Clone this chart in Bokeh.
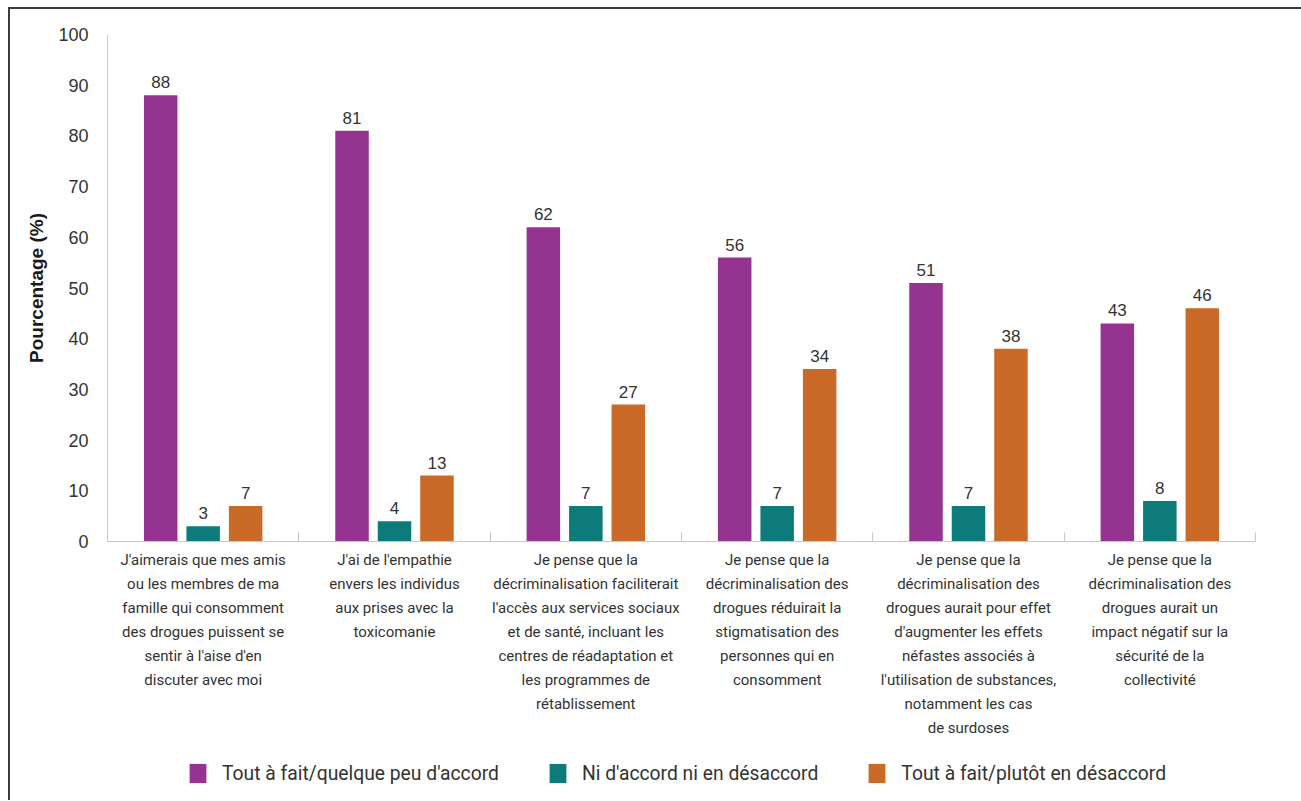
import numpy as np
from bokeh.plotting import figure
from bokeh.layouts import column
from bokeh.models import ColumnDataSource, FixedTicker, Legend, LegendItem, Range1d
from bokeh.core.properties import value
from bokeh.embed import file_html
from bokeh.resources import INLINE

categories = [
    "J'aimerais que mes amis\nou les membres de ma\nfamille qui consomment\ndes drogues puissent se\nsentir à l'aise d'en\ndiscuter avec moi",
    "J'ai de l'empathie\nenvers les individus\naux prises avec la\ntoxicomanie",
    "Je pense que la\ndécriminalisation faciliterait\nl'accès aux services sociaux\net de santé, incluant les\ncentres de réadaptation et\nles programmes de\nrétablissement",
    "Je pense que la\ndécriminalisation des\ndrogues réduirait la\nstigmatisation des\npersonnes qui en\nconsomment",
    "Je pense que la\ndécriminalisation des\ndrogues aurait pour effet\nd'augmenter les effets\nnéfastes associés à\nl'utilisation de substances,\nnotamment les cas\nde surdoses",
    "Je pense que la\ndécriminalisation des\ndrogues aurait un\nimpact négatif sur la\nsécurité de la\ncollectivité",
]
series_names = [
    "Tout à fait/quelque peu d'accord",
    "Ni d'accord ni en désaccord",
    "Tout à fait/plutôt en désaccord",
]
accord = [88, 81, 62, 56, 51, 43]
neutre = [3, 4, 7, 7, 7, 8]
desaccord = [7, 13, 27, 34, 38, 46]
y_ticks = [0, 10, 20, 30, 40, 50, 60, 70, 80, 90, 100]
y_title = "Pourcentage (%)"

colors = ["#943490", "#0e7b7b", "#c96a28"]
offsets = [-0.222, 0.0, 0.222]
bar_w = 0.175

n = len(categories)
centers = np.arange(n) + 0.5
bounds = list(np.arange(n + 1).astype(float))

NARROW = "Roboto"
SANS = "Liberation Sans"
W = 1291

p = figure(width=W, height=736, x_range=Range1d(0, n), y_range=Range1d(0, 100),
           output_backend="svg", toolbar_location=None, tools="",
           min_border_left=97, min_border_right=46, min_border_top=25, min_border_bottom=204)
p.outline_line_color = None
p.xgrid.grid_line_color = None
p.ygrid.grid_line_color = None
p.background_fill_color = "white"

sources = []
for vals, col, off in zip([accord, neutre, desaccord], colors, offsets):
    src = ColumnDataSource(dict(x=centers + off, top=vals, lab=[str(v) for v in vals]))
    sources.append(src)
    p.vbar(x="x", top="top", width=bar_w, bottom=0, source=src,
           fill_color=col, line_color=None)
    p.text(x="x", y="top", text="lab", source=src, text_align="center",
           text_baseline="bottom", y_offset=-7, text_font=value(SANS),
           text_font_size="17px", text_color="#333333")

# y axis
ya = p.yaxis[0]
ya.ticker = FixedTicker(ticks=y_ticks)
ya.axis_line_color = "#c8c8c8"
ya.major_tick_line_color = None
ya.major_tick_in = 0
ya.major_tick_out = 0
ya.minor_tick_line_color = None
ya.major_label_text_font = SANS
ya.major_label_text_font_size = "18px"
ya.major_label_text_color = "#333333"
ya.major_label_standoff = 19
ya.axis_label = y_title
ya.axis_label_text_font = SANS
ya.axis_label_text_font_style = "bold"
ya.axis_label_text_font_size = "19px"
ya.axis_label_text_color = "#1a1a1a"
ya.axis_label_standoff = 8

# x axis
xa = p.xaxis[0]
xa.ticker = FixedTicker(ticks=list(centers), minor_ticks=bounds)
xa.major_label_overrides = {float(c): lab for c, lab in zip(centers, categories)}
xa.axis_line_color = "#c8c8c8"
xa.major_tick_line_color = None
xa.major_tick_in = 0
xa.major_tick_out = 0
xa.minor_tick_line_color = "#c8c8c8"
xa.minor_tick_in = 9
xa.minor_tick_out = 0
xa.major_label_text_font = NARROW
xa.major_label_text_font_size = "15px"
xa.major_label_text_color = "#333333"
xa.major_label_text_line_height = 1.34
xa.major_label_standoff = 9

# legend strip (same series; its renderers are hidden so only the legend shows)
lg = figure(width=W, height=55, x_range=Range1d(0, n), y_range=Range1d(-20, -10),
            output_backend="svg", toolbar_location=None, tools="",
            min_border_left=0, min_border_right=0, min_border_top=0, min_border_bottom=0,
            x_axis_type=None, y_axis_type=None)
lg.outline_line_color = None
lg.xgrid.grid_line_color = None
lg.ygrid.grid_line_color = None
items = []
for name, col, src in zip(series_names, colors, sources):
    r = lg.vbar(x="x", top="top", width=bar_w, bottom=0, source=src,
                fill_color=col, line_color=None, visible=False)
    items.append(LegendItem(label=name, renderers=[r]))
legend = Legend(items=items, orientation="horizontal", location=(80, 15),
                glyph_width=21, glyph_height=24, label_standoff=14, spacing=48,
                label_text_font=NARROW, label_text_font_size="19.3px",
                label_text_color="#333333", border_line_color=None,
                background_fill_alpha=0, padding=0, margin=0,
                inactive_fill_alpha=0)
lg.add_layout(legend, "center")

layout = column(p, lg, spacing=0)
layout.styles = {"margin-left": "8px", "margin-top": "7px",
                 "border-left": "2px solid #3c3c3c", "border-top": "2px solid #3c3c3c"}

open("out.html", "w").write(file_html(layout, INLINE))
